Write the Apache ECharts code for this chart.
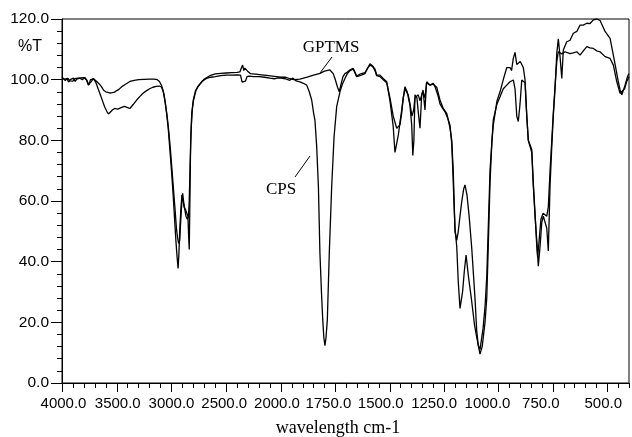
<!DOCTYPE html>
<html><head><meta charset="utf-8">
<script src="https://cdn.jsdelivr.net/npm/echarts@6/dist/echarts.min.js"></script>
<style>html,body{margin:0;padding:0;background:#fff}#c{width:632px;height:437px}</style>
</head><body><div id="c"></div>
<script>
// ---- data (wavenumber in cm-1, transmittance in %T) ----
const cpsWavenumber = [4000,3990,3975,3960,3945,3930,3915,3900,3885,3870,3855,3840,3825,3810,3790,3770,3755,3740,3725,3710,3690,3670,3650,3630,3610,3590,3575,3560,3540,3520,3490,3460,3430,3400,3380,3350,3320,3290,3260,3230,3200,3170,3140,3110,3090,3075,3060,3045,3030,3015,3000,2985,2970,2960,2950,2940,2933,2925,2915,2905,2895,2885,2870,2860,2850,2843,2838,2832,2825,2815,2800,2780,2750,2720,2680,2640,2600,2550,2500,2450,2400,2370,2355,2340,2325,2310,2290,2250,2200,2150,2100,2060,2030,2000,1980,1960,1945,1930,1913,1897,1882,1870,1859,1850,1844,1836,1828,1821,1814,1808,1803,1798,1793,1787,1778,1767,1756,1744,1729,1718,1706,1695,1683,1668,1652,1637,1614,1600,1591,1578,1568,1560,1545,1530,1514,1499,1490,1484,1476,1468,1460,1453,1445,1438,1430,1420,1407,1399,1394,1389,1384,1375,1369,1361,1353,1347,1338,1331,1323,1315,1300,1292,1284,1277,1269,1261,1246,1232,1223,1215,1211,1205,1200,1192,1185,1177,1165,1157,1149,1139,1123,1110,1100,1085,1075,1062,1054,1047,1039,1030,1024,1007,993,978,962,947,940,932,924,916,909,900,893,886,878,870,863,855,847,840,832,824,817,809,801,794,786,778,771,763,755,748,740,732,725,717,709,702,694,686,671,656,640,625,610,594,579,564,548,533,525,510,502,487,472,456,449,441,433,428,418,407,400];
const cpsTransmittance = [100.5,100.8,100.2,99.8,100.4,99.6,100.2,99.5,100.3,99.8,100.5,100.0,100.6,100.2,100.7,99.6,98.2,100.0,100.5,100.2,99.0,97.0,95.0,93.0,91.0,89.5,88.7,89.3,90.0,90.5,90.3,90.8,91.2,90.8,90.5,91.8,93.2,94.4,95.5,96.3,97.0,97.5,97.8,97.9,97.5,96.0,93.0,89.0,84.0,77.0,70.0,62.0,53.0,47.0,42.0,37.8,42.0,50.0,57.0,62.0,61.5,58.0,57.0,56.5,55.0,48.0,44.0,60.0,80.0,89.0,93.5,96.5,98.0,99.5,100.4,100.8,101.0,101.3,101.5,101.5,101.6,101.5,99.2,98.8,99.5,101.0,101.2,101.0,101.0,100.8,100.5,100.3,100.6,100.5,100.3,99.8,100.5,99.6,99.3,98.8,98.2,96.0,93.3,89.0,86.7,78.0,64.7,42.8,30.0,20.8,15.0,12.3,15.0,20.8,42.8,64.7,81.2,91.1,96.0,98.5,100.4,102.0,103.0,103.5,101.0,101.3,102.0,104.0,105.2,104.5,103.5,101.5,101.5,100.4,99.3,93.0,88.0,84.5,76.0,76.5,82.0,86.0,90.0,94.0,97.7,96.0,91.5,85.0,75.0,80.0,95.0,94.0,89.4,84.0,95.0,96.6,90.0,99.0,99.3,98.2,98.8,97.7,96.0,94.4,92.0,91.0,89.4,87.0,85.0,79.0,72.0,60.0,51.0,45.0,33.4,24.6,30.2,37.0,42.2,35.6,26.8,19.0,15.0,9.5,12.0,20.0,28.0,45.0,66.0,80.0,85.0,93.0,96.0,100.0,104.0,104.0,103.0,107.0,109.0,105.0,104.5,106.0,105.5,104.0,100.0,88.0,80.0,78.0,76.0,65.0,55.0,47.0,38.5,45.0,53.0,55.0,55.0,51.0,43.5,65.0,78.0,88.0,97.0,108.7,113.5,107.6,100.4,109.8,110.3,112.5,113.0,115.3,115.9,118.0,118.0,118.6,118.5,119.7,120.0,119.5,119.1,115.9,116.4,113.6,108.1,102.0,99.3,96.6,95.0,95.0,98.2,101.0,102.0];

const gptmsWavenumber = [4000,3985,3970,3955,3940,3925,3910,3895,3880,3865,3850,3835,3815,3795,3775,3760,3745,3730,3715,3700,3680,3660,3640,3620,3600,3580,3560,3540,3520,3500,3480,3450,3420,3380,3340,3300,3250,3200,3160,3130,3110,3090,3070,3055,3040,3025,3010,2995,2980,2965,2955,2945,2935,2925,2915,2905,2898,2890,2880,2868,2855,2845,2838,2830,2820,2810,2800,2780,2760,2730,2700,2650,2600,2550,2500,2450,2400,2375,2360,2350,2340,2330,2320,2305,2280,2230,2180,2130,2080,2040,2000,1980,1959,1940,1913,1880,1850,1821,1800,1775,1760,1752,1740,1732,1724,1715,1706,1695,1683,1668,1652,1637,1614,1600,1591,1578,1568,1560,1545,1530,1514,1499,1484,1468,1453,1445,1438,1430,1415,1407,1398,1390,1384,1369,1361,1353,1347,1338,1330,1323,1315,1300,1284,1269,1254,1238,1231,1223,1215,1208,1200,1192,1185,1177,1169,1160,1154,1145,1135,1123,1108,1100,1093,1085,1071,1062,1054,1039,1024,1007,993,978,962,947,932,924,916,909,901,893,886,878,870,863,847,840,832,824,820,812,805,795,786,778,771,763,755,748,740,732,725,709,694,671,656,640,625,610,594,579,564,548,533,510,487,472,456,441,433,420,411,400];
const gptmsTransmittance = [100.8,100.3,99.7,100.4,99.2,100.0,99.6,100.5,99.4,100.2,99.8,100.5,100.0,100.6,99.8,98.2,97.8,99.5,100.4,100.0,99.3,98.6,97.7,96.5,96.0,95.8,95.6,95.7,95.9,96.4,96.8,97.8,98.5,99.4,99.8,100.0,100.1,100.2,100.2,100.0,99.4,98.0,95.5,92.0,88.0,83.0,77.0,70.0,63.0,56.0,51.0,48.0,46.0,47.0,54.0,60.0,62.5,60.0,57.5,55.0,54.0,55.0,60.0,72.0,84.0,90.0,93.0,96.0,97.8,99.0,100.2,101.3,101.9,102.1,102.2,102.3,102.4,102.6,104.0,104.8,103.0,103.8,104.3,102.8,102.0,101.8,101.6,101.4,101.2,101.0,100.8,100.8,100.3,100.0,100.2,100.8,101.5,102.1,102.8,103.2,102.0,100.4,97.5,96.0,98.5,101.0,102.0,102.5,103.2,103.7,101.2,101.8,102.3,104.0,104.8,104.3,103.0,101.3,101.0,100.0,99.0,94.0,88.0,84.0,85.1,89.0,93.9,97.0,95.0,92.0,88.0,90.0,94.0,95.0,93.0,95.0,96.0,94.0,99.3,99.0,98.2,98.5,97.5,93.3,90.5,88.9,86.7,84.0,80.0,70.0,50.0,47.0,50.0,55.0,59.8,64.0,65.3,62.0,55.0,44.4,27.9,17.0,12.5,11.0,18.0,25.0,35.0,70.0,86.7,92.0,94.4,97.0,98.2,99.3,99.9,97.0,88.0,86.2,92.0,99.9,99.5,99.0,88.0,80.0,77.0,66.0,56.0,45.0,41.5,48.0,54.0,56.0,56.0,55.0,58.0,70.0,80.0,89.0,98.0,106.0,109.2,108.5,109.2,108.6,108.8,109.2,108.1,109.5,110.9,110.5,110.3,109.5,109.2,107.6,107.0,104.8,99.3,95.5,95.0,97.0,99.3,101.0];

const xTicksUpper = [4000, 3500, 3000, 2500, 2000];
const xTicksLower = [1750, 1500, 1250, 1000, 750, 500];
const yTicks = [0, 20, 40, 60, 80, 100, 120];

// ---- layout / style ----
const SANS = '"Liberation Sans", Arial, sans-serif';
const SERIF = '"Liberation Serif", "Times New Roman", serif';
const X_LABEL_SIZE = 15;
const Y_LABEL_SIZE = 15.5;
const black = '#000';
// horizontal nudge (px) of each x label relative to its tick, as in the original print
const labelShift = {4000: 1.5, 3500: 1, 2500: -2, 2000: -4, 1750: -7, 1500: -9, 1250: -10, 1000: -11, 750: -12, 500: -4};

const rich = {};
Object.values(labelShift).forEach(s => {
  const k = (s < 0 ? 'l' : 'r') + Math.round(Math.abs(s) * 2);
  const p = Math.abs(s) * 2;
  rich[k] = {fontFamily: SANS, fontSize: X_LABEL_SIZE, color: black,
             padding: s < 0 ? [0, p, 0, 0] : [0, 0, 0, p]};
});
function xFmt(v) {
  const txt = Number(v).toFixed(1);
  const s = labelShift[v];
  if (!s) return txt;
  const k = (s < 0 ? 'l' : 'r') + Math.round(Math.abs(s) * 2);
  return '{' + k + '|' + txt + '}';
}

function part(ws, ts, upper) {
  const out = [];
  for (let i = 0; i < ws.length; i++) {
    if (upper ? ws[i] >= 2000 : ws[i] <= 2000) out.push([ws[i], ts[i]]);
  }
  return out;
}
const even = a => a.filter((_, i) => i % 2 === 0);
const odd = a => a.filter((_, i) => i % 2 === 1);

function labelAxis(gridIndex, min, max, values) {
  return {type: 'value', gridIndex, min, max, inverse: true, position: 'bottom', offset: 0,
    axisLine: {show: false}, axisTick: {show: false}, splitLine: {show: false},
    axisLabel: {show: true, margin: 13, color: black, fontFamily: SANS, fontSize: X_LABEL_SIZE,
      customValues: values, formatter: xFmt, rich: rich}};
}

const lineBase = {type: 'line', showSymbol: false, symbol: 'none', animation: false,
  lineStyle: {color: black, width: 1.3}, itemStyle: {color: black}};

const TOP = 19, H = 364;
const chart = echarts.init(document.getElementById('c'), null, {renderer: 'canvas'});
chart.setOption({
  backgroundColor: '#fff',
  animation: false,
  grid: [
    {left: 62, top: TOP, width: 219, height: H},
    {left: 281, top: TOP, width: 348, height: H},
    {left: 62, top: TOP, width: 567, height: H, show: true, borderColor: black, borderWidth: 1, backgroundColor: 'transparent'}
  ],
  xAxis: [
    // 0: upper range (4000-2000) ticks
    {type: 'value', gridIndex: 0, min: 2000, max: 4000, interval: 500, inverse: true, position: 'bottom',
     axisLine: {show: true, lineStyle: {color: black, width: 1}},
     axisTick: {show: true, length: 9, lineStyle: {color: black}},
     minorTick: {show: true, splitNumber: 5, length: 5, lineStyle: {color: black}},
     splitLine: {show: false}, minorSplitLine: {show: false},
     axisLabel: {show: false}},
    // 1,2: upper range labels (alternating so none is hidden)
    labelAxis(0, 2000, 4000, even(xTicksUpper)),
    labelAxis(0, 2000, 4000, odd(xTicksUpper)),
    // 3: lower range (2000-400) major ticks
    {type: 'value', gridIndex: 1, min: 400, max: 2000, inverse: true, position: 'bottom',
     axisLine: {show: true, lineStyle: {color: black, width: 1}},
     axisTick: {show: true, length: 9, lineStyle: {color: black}, customValues: xTicksLower},
     splitLine: {show: false}, axisLabel: {show: false}},
    // 4: lower range minor ticks
    {type: 'value', gridIndex: 1, min: 400, max: 2000, interval: 50, inverse: true, position: 'bottom', offset: 0,
     axisLine: {show: false},
     axisTick: {show: true, length: 5, lineStyle: {color: black}},
     splitLine: {show: false}, axisLabel: {show: false}},
    // 5,6: lower range labels
    labelAxis(1, 400, 2000, even(xTicksLower)),
    labelAxis(1, 400, 2000, odd(xTicksLower)),
    // 7: frame
    {type: 'value', gridIndex: 2, min: 0, max: 1, show: false}
  ],
  yAxis: [
    {type: 'value', gridIndex: 0, min: 0, max: 120, interval: 20,
     axisLine: {show: true, lineStyle: {color: black, width: 1}},
     axisTick: {show: true, length: 11, lineStyle: {color: black}},
     minorTick: {show: true, splitNumber: 5, length: 5, lineStyle: {color: black}},
     splitLine: {show: false}, minorSplitLine: {show: false},
     axisLabel: {show: true, margin: 13, color: black, fontFamily: SANS, fontSize: Y_LABEL_SIZE,
       customValues: yTicks, formatter: v => Number(v).toFixed(1)}},
    {type: 'value', gridIndex: 1, min: 0, max: 120, show: false},
    {type: 'value', gridIndex: 2, min: 0, max: 1, show: false}
  ],
  series: [
    Object.assign({}, lineBase, {name: 'CPS', xAxisIndex: 0, yAxisIndex: 0, data: part(cpsWavenumber, cpsTransmittance, true)}),
    Object.assign({}, lineBase, {name: 'CPS', xAxisIndex: 3, yAxisIndex: 1, data: part(cpsWavenumber, cpsTransmittance, false)}),
    Object.assign({}, lineBase, {name: 'GPTMS', xAxisIndex: 0, yAxisIndex: 0, data: part(gptmsWavenumber, gptmsTransmittance, true)}),
    Object.assign({}, lineBase, {name: 'GPTMS', xAxisIndex: 3, yAxisIndex: 1, data: part(gptmsWavenumber, gptmsTransmittance, false)})
  ],
  graphic: [
    {type: 'text', x: 18, y: 47, style: {text: '%T', font: '16px ' + SANS, fill: black, verticalAlign: 'middle', align: 'left'}},
    {type: 'text', x: 331, y: 48, style: {text: 'GPTMS', font: '17px ' + SERIF, fill: black, verticalAlign: 'middle', align: 'center'}},
    {type: 'line', shape: {x1: 332, y1: 57, x2: 320, y2: 73}, style: {stroke: black, lineWidth: 1}},
    {type: 'text', x: 281, y: 190, style: {text: 'CPS', font: '17px ' + SERIF, fill: black, verticalAlign: 'middle', align: 'center'}},
    {type: 'line', shape: {x1: 295, y1: 177, x2: 310, y2: 156}, style: {stroke: black, lineWidth: 1}},
    {type: 'text', x: 338, y: 428, style: {text: 'wavelength cm-1', font: '18px ' + SERIF, fill: black, verticalAlign: 'middle', align: 'center'}}
  ]
});
</script>
</body></html>
